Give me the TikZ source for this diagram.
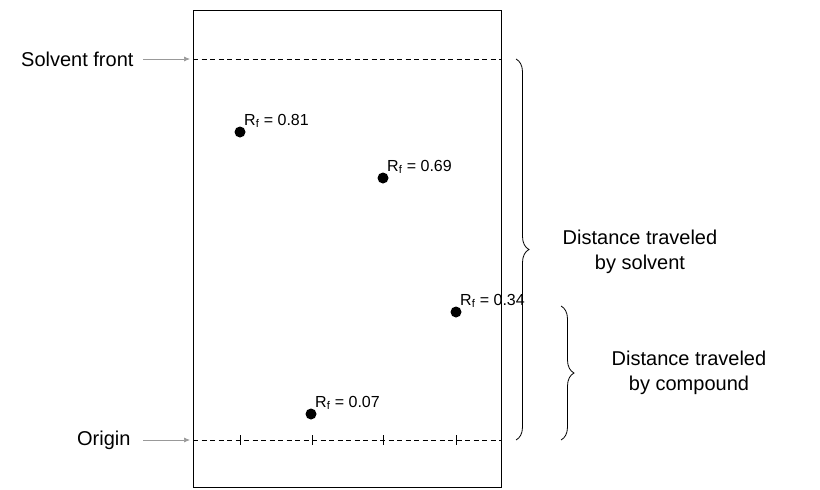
\documentclass[tikz,border=0pt]{standalone}
\usepackage{fontspec}
\setmainfont{Liberation Sans}
\usetikzlibrary{decorations.pathreplacing,arrows.meta}
\begin{document}
\begin{tikzpicture}[x=1pt,y=-1pt,
  lbl/.style={font=\fontsize{20}{25}\selectfont, align=center},
  rf/.style={font=\fontsize{16}{18}\selectfont, anchor=south west, inner sep=0pt},
  spot/.style={circle, fill=black, inner sep=0pt, minimum size=11pt},
  ptr/.style={draw=gray!80, -{Latex[length=6pt,width=5pt]}, line width=0.7pt},
  brc/.style={decorate, decoration={brace, amplitude=13pt}, line width=0.8pt}]
\useasboundingbox (0,0) rectangle (820,490);
\node[draw, line width=0.9pt, minimum width=308pt, minimum height=477pt, inner sep=0pt, anchor=north west] (plate) at (193,10) {};
\coordinate (sfL) at (193,59); \coordinate (sfR) at (501,59);
\coordinate (orL) at (193,440); \coordinate (orR) at (501,440);
\draw[dash pattern=on 5pt off 3.5pt, line width=0.8pt] (sfL) -- (sfR);
\draw[dash pattern=on 5pt off 3.5pt, line width=0.8pt] (orL) -- (orR);
\foreach \x in {240,312,383,456} \draw[line width=0.9pt] (\x,435) -- (\x,445);
\node[lbl, anchor=east] (sf) at (137,59) {Solvent front};
\node[lbl, anchor=east] (or) at (134,440) {Origin};
\coordinate (sfA) at (190,59); \coordinate (orA) at (190,440);
\coordinate (sfS) at (143,59); \coordinate (orS) at (143,440);
\draw[ptr] (sfS) -- (sfA);
\draw[ptr] (orS) -- (orA);
\node[spot] (d1) at (240,132) {};
\node[spot] (d2) at (383,178) {};
\node[spot] (d3) at (456,312) {};
\node[spot] (d4) at (311,414) {};
\node[rf] (l1) at (d1.north east) {R$_\mathrm{f}$ = 0.81};
\node[rf] (l2) at (d2.north east) {R$_\mathrm{f}$ = 0.69};
\node[rf] (l3) at (d3.north east) {R$_\mathrm{f}$ = 0.34};
\node[rf] (l4) at (d4.north east) {R$_\mathrm{f}$ = 0.07};
\coordinate (b1t) at (516,59); \coordinate (b1b) at (516,440);
\coordinate (b2t) at (561,306); \coordinate (b2b) at (561,440);
\draw[brc] (b1t) -- (b1b);
\draw[brc] (b2t) -- (b2b);
\node[lbl] (t1) at (640,252) {Distance traveled\\by solvent};
\node[lbl] (t2) at (689,373) {Distance traveled\\by compound};
\end{tikzpicture}
\end{document}
